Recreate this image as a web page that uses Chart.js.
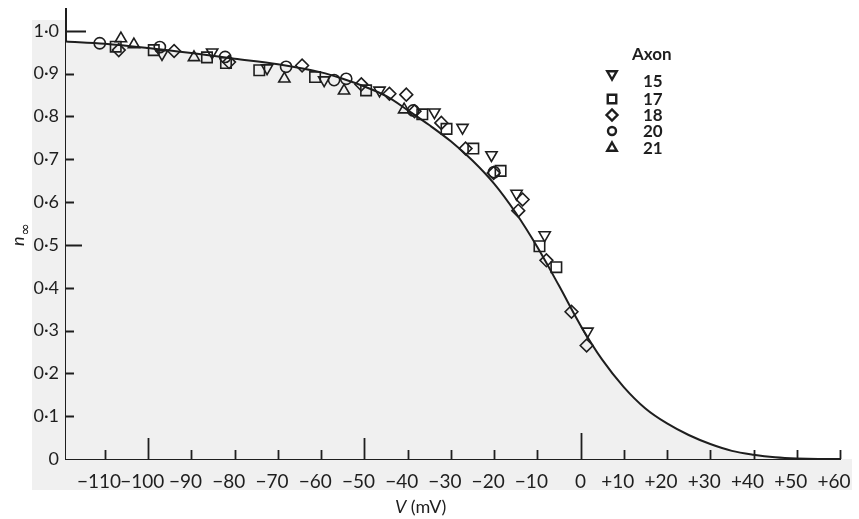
<!DOCTYPE html>
<html>
<head>
<meta charset="utf-8">
<script src="https://cdn.jsdelivr.net/npm/chart.js@4/dist/chart.umd.min.js"></script>
<style>
  html, body { margin: 0; padding: 0; background: #ffffff; }
  #wrap { width: 859px; height: 519px; position: relative; }
</style>
</head>
<body>
<div id="wrap"><canvas id="c" width="859" height="519"></canvas></div>
<script>
// ---- Data ----
const xTickValues = [-110, -100, -90, -80, -70, -60, -50, -40, -30, -20, -10, 0, 10, 20, 30, 40, 50, 60];
const xTickLabels = ['\u2212110', '\u2212100', '\u221290', '\u221280', '\u221270', '\u221260', '\u221250', '\u221240', '\u221230', '\u221220', '\u221210', '0', '+10', '+20', '+30', '+40', '+50', '+60'];
const yTickValues = [0, 0.1, 0.2, 0.3, 0.4, 0.5, 0.6, 0.7, 0.8, 0.9, 1.0];
const yTickLabels = ['0', '0\u00b71', '0\u00b72', '0\u00b73', '0\u00b74', '0\u00b75', '0\u00b76', '0\u00b77', '0\u00b78', '0\u00b79', '1\u00b70'];

// fitted curve
const curveV = [-119, -110, -100, -90, -80, -70, -60, -55, -50, -45, -40, -35, -30, -25, -20, -15, -10, -5, 0, 5, 10, 15, 20, 25, 30, 35, 40, 45, 50, 55, 60];
const curveN = [0.975, 0.970, 0.960, 0.948, 0.935, 0.922, 0.903, 0.888, 0.870, 0.848, 0.815, 0.780, 0.742, 0.697, 0.643, 0.575, 0.495, 0.405, 0.312, 0.232, 0.168, 0.118, 0.083, 0.056, 0.035, 0.019, 0.010, 0.004, 0.001, 0, 0];

// Axon 15 (inverted triangles)
const axon15V = [-96.8, -85.2, -72.5, -59.3, -46.5, -33.8, -27.3, -20.6, -14.8, -8.3, 1.6];
const axon15N = [0.946, 0.950, 0.913, 0.885, 0.861, 0.810, 0.774, 0.710, 0.620, 0.523, 0.298];
// Axon 17 (squares)
const axon17V = [-107.5, -98.7, -86.4, -82.0, -74.3, -61.4, -49.6, -36.6, -31.0, -24.8, -18.5, -9.5, -5.6];
const axon17N = [0.963, 0.955, 0.938, 0.925, 0.908, 0.892, 0.861, 0.805, 0.771, 0.725, 0.673, 0.497, 0.448];
// Axon 18 (diamonds)
const axon18V = [-106.8, -94.0, -81.3, -64.4, -50.7, -44.2, -40.3, -38.4, -32.2, -26.6, -20.1, -14.4, -13.4, -7.9, -2.1, 1.4];
const axon18N = [0.955, 0.953, 0.927, 0.919, 0.875, 0.853, 0.851, 0.812, 0.785, 0.725, 0.668, 0.580, 0.606, 0.464, 0.344, 0.265];
// Axon 20 (circles)
const axon20V = [-111.2, -97.3, -82.2, -68.1, -57.0, -54.2, -38.7, -20.0];
const axon20N = [0.971, 0.962, 0.939, 0.916, 0.885, 0.888, 0.814, 0.670];
// Axon 21 (triangles)
const axon21V = [-106.3, -103.3, -89.4, -68.5, -54.7, -40.8];
const axon21N = [0.982, 0.968, 0.938, 0.888, 0.860, 0.816];

const legendTitle = 'Axon';
const axonLabels = ['15', '17', '18', '20', '21'];

function pts(vs, ns) { return vs.map((v, i) => ({ x: v, y: ns[i] })); }

const INK = '#1e1e1e';
const GREY = '#f0f0f0';

function scatterDs(label, vs, ns, style, radius, rot) {
  return {
    type: 'scatter', label: label, data: pts(vs, ns), order: 0,
    pointStyle: style, pointRadius: radius, pointRotation: rot || 0,
    pointBorderColor: INK, pointBackgroundColor: 'rgba(0,0,0,0)', pointBorderWidth: 1.6,
    borderColor: INK, backgroundColor: 'rgba(0,0,0,0)'
  };
}

const bgPlugin = {
  id: 'bg',
  beforeDraw(chart) {
    const ctx = chart.ctx, a = chart.chartArea;
    ctx.save();
    ctx.fillStyle = '#ffffff';
    ctx.fillRect(0, 0, chart.width, chart.height);
    ctx.fillStyle = GREY;
    ctx.fillRect(32, 20, a.left - 32, a.bottom - 20);
    ctx.fillRect(32, a.bottom, 852 - 32, 490 - a.bottom);
    ctx.restore();
  }
};

const tickPlugin = {
  id: 'innerTicks',
  afterDatasetsDraw(chart) {
    const ctx = chart.ctx, a = chart.chartArea;
    const xs = chart.scales.x, ys = chart.scales.y;
    ctx.save();
    ctx.strokeStyle = INK;
    ctx.lineWidth = 1.8;
    ctx.beginPath();
    xTickValues.forEach(v => {
      const px = Math.round(xs.getPixelForValue(v)) + 0.5;
      let len = 9;
      if (v === -100 || v === -50) len = 21;
      if (v === 0) len = 26;
      ctx.moveTo(px, a.bottom);
      ctx.lineTo(px, a.bottom - len);
    });
    yTickValues.forEach(v => {
      if (v === 0) return;
      const py = Math.round(ys.getPixelForValue(v)) + 0.5;
      let len = 8;
      if (v === 0.5) len = 16;
      if (v === 1.0) len = 20;
      ctx.moveTo(a.left, py);
      ctx.lineTo(a.left + len, py);
    });
    ctx.stroke();
    ctx.restore();
  }
};

const textPlugin = {
  id: 'texts',
  afterDraw(chart) {
    const ctx = chart.ctx;
    const xs = chart.scales.x;
    ctx.save();
    ctx.fillStyle = INK;
    // y-axis title: n with subscript infinity, rotated
    ctx.translate(24, 238);
    ctx.rotate(-Math.PI / 2);
    ctx.textBaseline = 'alphabetic';
    ctx.textAlign = 'left';
    ctx.font = 'italic 18px Lato';
    ctx.fillText('n', -8, 0);
    const nW = ctx.measureText('n').width;
    ctx.font = '15px "DejaVu Sans"';
    ctx.fillText('\u221e', -7 + nW, 6);
    ctx.restore();

    // x-axis title
    ctx.save();
    ctx.fillStyle = INK;
    ctx.textBaseline = 'alphabetic';
    ctx.textAlign = 'left';
    ctx.font = 'italic 18px Lato';
    const vW = ctx.measureText('V').width;
    ctx.font = '18px Lato';
    const restW = ctx.measureText(' (mV)').width;
    const cx = xs.getPixelForValue(-37);
    let sx = cx - (vW + restW) / 2;
    ctx.font = 'italic 18px Lato';
    ctx.fillText('V', sx, 513);
    ctx.font = '18px Lato';
    ctx.fillText(' (mV)', sx + vW, 513);
    ctx.restore();

    // legend
    ctx.save();
    ctx.font = 'bold 17px Lato';
    ctx.textBaseline = 'middle';
    ctx.textAlign = 'left';
    ctx.fillStyle = INK;
    ctx.fillText(legendTitle, 632, 55);
    const rowsText = [82, 100, 116, 132, 149];
    const rowsSym = [74, 99, 115, 131, 148];
    const symDs = chart.data.datasets.filter(d => d.type === 'scatter');
    symDs.forEach((d, i) => {
      ctx.fillStyle = INK;
      ctx.fillText(axonLabels[i], 643, rowsText[i]);
      ctx.fillStyle = 'rgba(0,0,0,0)';
      ctx.strokeStyle = INK;
      ctx.lineWidth = 2.4;
      Chart.helpers.drawPoint(ctx, {
        pointStyle: d.pointStyle, rotation: d.pointRotation,
        radius: d.pointStyle === 'circle' ? 4 : (d.pointStyle === 'rect' ? 6 : 5.5),
        borderWidth: 2.4
      }, 612, rowsSym[i]);
    });
    ctx.restore();
  }
};

const ctx = document.getElementById('c').getContext('2d');
const chart = new Chart(ctx, {
  data: {
    datasets: [
      {
        type: 'line', label: 'fit', data: pts(curveV, curveN), order: 10,
        borderColor: INK, borderWidth: 2, pointRadius: 0,
        cubicInterpolationMode: 'monotone',
        fill: 'origin', backgroundColor: GREY
      },
      scatterDs(axonLabels[0], axon15V, axon15N, 'triangle', 6.5, 180),
      scatterDs(axonLabels[1], axon17V, axon17N, 'rect', 7.4, 0),
      scatterDs(axonLabels[2], axon18V, axon18N, 'rectRot', 6.4, 0),
      scatterDs(axonLabels[3], axon20V, axon20N, 'circle', 5.6, 0),
      scatterDs(axonLabels[4], axon21V, axon21N, 'triangle', 6.5, 0)
    ]
  },
  options: {
    responsive: false,
    animation: false,
    devicePixelRatio: 1,
    layout: { padding: { left: 0, right: 19, top: 7, bottom: 0 } },
    plugins: { legend: { display: false }, tooltip: { enabled: false } },
    scales: {
      x: {
        type: 'linear', min: -119, max: 60,
        afterBuildTicks: s => { s.ticks = xTickValues.map(v => ({ value: v })); },
        afterFit: s => { s.height = 60; s.paddingLeft = 0; s.paddingRight = 0; },
        grid: { display: false, drawTicks: false },
        border: { display: true, color: INK, width: 2 },
        ticks: {
          autoSkip: false, maxRotation: 0, minRotation: 0, padding: 11,
          color: INK, font: { family: 'Lato', size: 19 },
          callback: (v, i) => xTickLabels[i] === '0' ? '0' : xTickLabels[i] + '\u2002\u2009'
        }
      },
      y: {
        type: 'linear', min: 0, max: 1.051,
        afterBuildTicks: s => { s.ticks = yTickValues.map(v => ({ value: v })); },
        afterFit: s => { s.width = 66; s.paddingTop = 0; s.paddingBottom = 0; },
        grid: { display: false, drawTicks: false },
        border: { display: true, color: INK, width: 2 },
        ticks: {
          padding: 7, color: INK, font: { family: 'Lato', size: 18 },
          callback: (v, i) => yTickLabels[i]
        }
      }
    }
  },
  plugins: [bgPlugin, tickPlugin, textPlugin]
});
</script>
</body>
</html>
